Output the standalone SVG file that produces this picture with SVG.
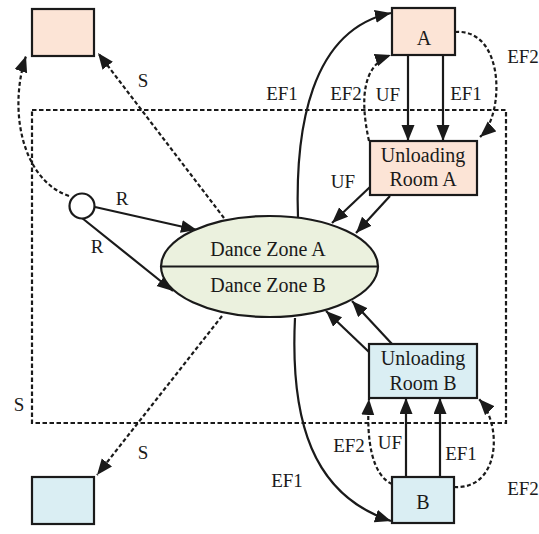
<svg xmlns="http://www.w3.org/2000/svg" width="539" height="534" viewBox="0 0 539 534">
  <style>
    text { font-family: "Liberation Serif", "Times New Roman", serif; font-size: 19px; fill: #1a1a1a; text-anchor: middle; }
    .node-text { font-size: 20px; }
    .box { stroke: #1a1a1a; stroke-width: 2.2; }
    .peach { fill: #fce4d6; }
    .blue { fill: #daeef3; }
    .solid { fill: none; stroke: #1a1a1a; stroke-width: 2.2; marker-end: url(#arrow); }
    .dash { fill: none; stroke: #1a1a1a; stroke-width: 2.2; stroke-dasharray: 4 2.5; marker-end: url(#arrow); }
    .frame { fill: none; stroke: #1a1a1a; stroke-width: 2.2; stroke-dasharray: 4.5 2.5; }
  </style>
  <defs>
    <marker id="arrow" markerUnits="userSpaceOnUse" markerWidth="17" markerHeight="14" refX="16" refY="6.5" orient="auto">
      <path d="M0,0 L16,6.5 L0,13 z" fill="#1a1a1a"/>
    </marker>
  </defs>

  <rect fill="#ffffff" width="539" height="534"/>

  <!-- boundary of the hall -->
  <rect class="frame" x="32" y="110" width="474" height="313"/>

  <g id="connectors">
    <!-- R: entry into the dance zones -->
    <path class="solid" d="M95,207 L197,230"/>
    <path class="solid" d="M82,218 L173,291"/>
    <!-- exits from the entry point -->
    <path class="dash" d="M69,196 C22,180 8,110 26,56"/>
    <!-- S: leaving the zones -->
    <path class="dash" d="M224,218 L98,53"/>
    <path class="dash" d="M222,316 L97,475"/>
    <!-- EF1 curves -->
    <path class="solid" d="M298,218 C295,130 310,30 391,13"/>
    <path class="solid" d="M295,318 C290,420 312,495 391,521"/>
    <!-- A to Unloading Room A -->
    <path class="solid" d="M408,55 L408,141"/>
    <path class="solid" d="M443,55 L443,141"/>
    <path class="dash" d="M369,141 C360,100 362,65 391,55"/>
    <path class="dash" d="M455,32 C505,28 505,115 480,137"/>
    <!-- Unloading Room A to Dance Zone A -->
    <path class="solid" d="M370,187 L332,223"/>
    <path class="solid" d="M390,196 L356,233"/>
    <!-- Unloading Room B to Dance Zone B -->
    <path class="solid" d="M369,352 L326,311"/>
    <path class="solid" d="M392,344 L352,301"/>
    <!-- B to Unloading Room B -->
    <path class="solid" d="M406,477 L406,398"/>
    <path class="solid" d="M440,477 L440,398"/>
    <path class="dash" d="M392,484 C372,475 366,440 369,399"/>
    <path class="dash" d="M454,487 C500,490 503,425 479,399"/>
  </g>

  <g id="exit-a">
    <rect class="box peach" x="32" y="9" width="62" height="47"/>
  </g>
  <g id="exit-b">
    <rect class="box blue" x="32" y="477" width="62" height="47"/>
  </g>
  <g id="entry">
    <circle cx="82" cy="206" r="12.5" fill="#ffffff" stroke="#1a1a1a" stroke-width="2.2"/>
  </g>
  <g id="node-a">
    <rect class="box peach" x="392" y="8" width="63" height="47"/>
    <text class="node-text" x="424" y="45">A</text>
  </g>
  <g id="node-b">
    <rect class="box blue" x="392" y="477" width="62" height="46"/>
    <text class="node-text" x="423" y="509">B</text>
  </g>
  <g id="unloading-a">
    <rect class="box peach" x="370" y="141" width="107" height="54"/>
    <text class="node-text" x="423" y="162">Unloading</text>
    <text class="node-text" x="423" y="186">Room A</text>
  </g>
  <g id="unloading-b">
    <rect class="box blue" x="369" y="344" width="108" height="54"/>
    <text class="node-text" x="423" y="365">Unloading</text>
    <text class="node-text" x="423" y="390">Room B</text>
  </g>
  <g id="dance-zones">
    <ellipse cx="269.5" cy="266.5" rx="108.5" ry="50.5" fill="#ebf1de" stroke="#1a1a1a" stroke-width="2.2"/>
    <line x1="161" y1="266.5" x2="378" y2="266.5" stroke="#1a1a1a" stroke-width="2.2"/>
    <text class="node-text" x="268" y="256">Dance Zone A</text>
    <text class="node-text" x="268" y="292">Dance Zone B</text>
  </g>

  <g id="labels">
    <text x="143" y="87">S</text>
    <text x="122" y="205">R</text>
    <text x="97" y="253">R</text>
    <text x="19" y="411">S</text>
    <text x="143" y="459">S</text>
    <text x="282" y="100">EF1</text>
    <text x="346" y="100">EF2</text>
    <text x="388" y="101">UF</text>
    <text x="466" y="100">EF1</text>
    <text x="523" y="63">EF2</text>
    <text x="343" y="188">UF</text>
    <text x="349" y="452">EF2</text>
    <text x="390" y="449">UF</text>
    <text x="461" y="460">EF1</text>
    <text x="287" y="487">EF1</text>
    <text x="523" y="495">EF2</text>
  </g>
</svg>
